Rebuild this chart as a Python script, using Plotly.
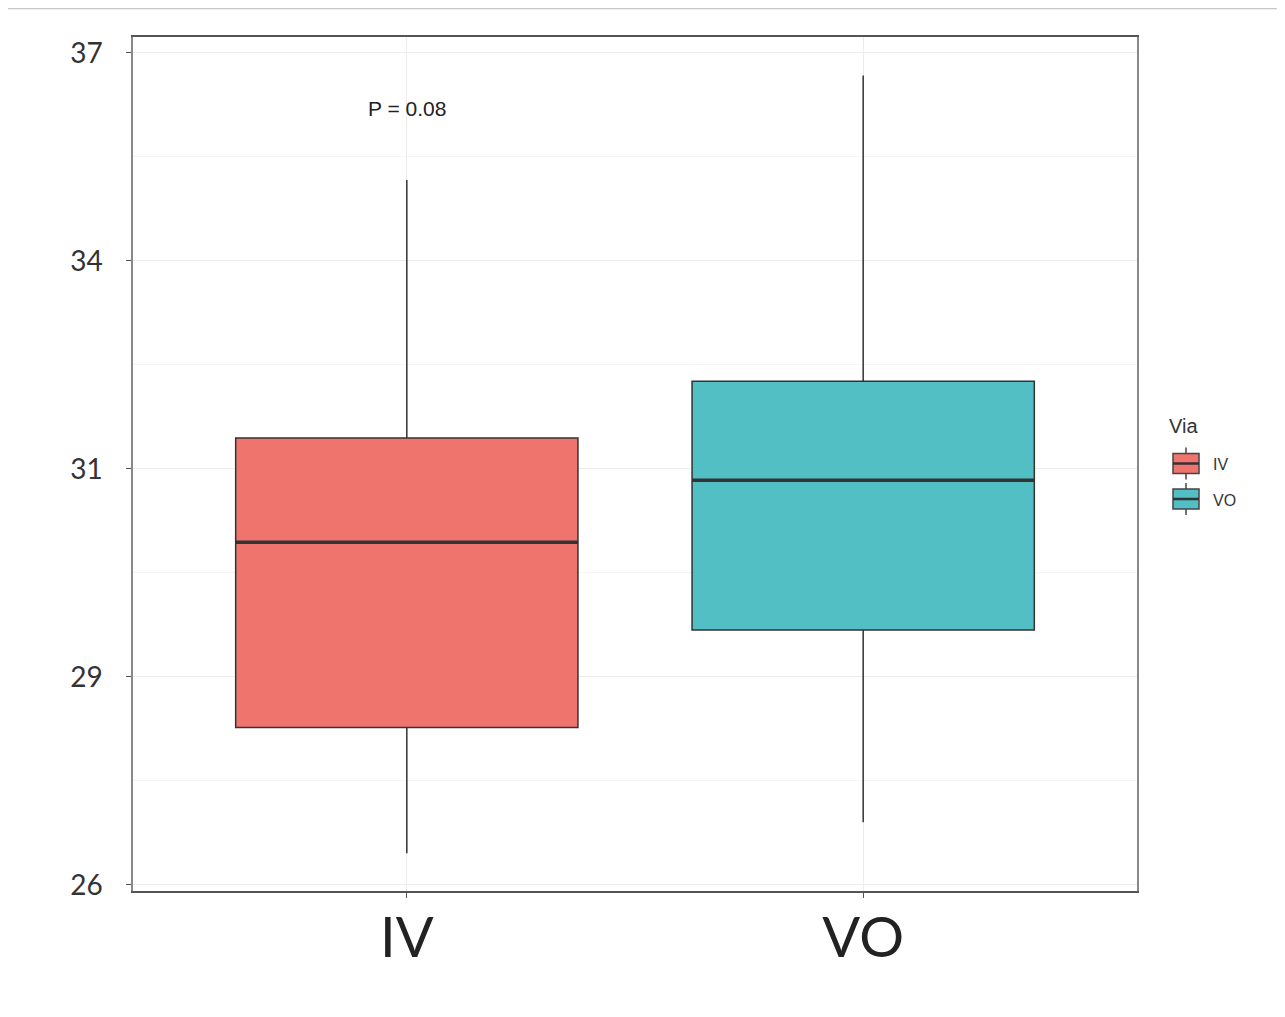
import plotly.graph_objects as go

# Data
groups = ["IV", "VO"]
lower_whisker = [26.42, 26.83]
q1 = [28.08, 29.37]
median = [30.53, 31.35]
q3 = [31.91, 32.66]
upper_whisker = [35.32, 36.70]
colors = ["#F0746E", "#52BFC5"]
ytick_vals = [26, 28.75, 31.5, 34.25, 37]
ytick_text = ["26", "29", "31", "34", "37"]
p_label = "P = 0.08"
legend_title = "Via"

# Layout geometry (page pixels; the figure sits 8px in from the page edge)
OFF = 8
W, H = 1269, 1001
L, T, R, B = 133 - OFF, 37 - OFF, W - (1137 - OFF), H - (891 - OFF)
PW, PH = W - L - R, H - T - B


def px(x):  # page x -> paper
    return (x - OFF - L) / PW


def py(y):  # page y -> paper
    return (H - B - (y - OFF)) / PH


box_w = 0.75
fig = go.Figure()
for i, g in enumerate(groups):
    fig.add_trace(go.Box(
        x=[i], q1=[q1[i]], median=[median[i]], q3=[q3[i]],
        lowerfence=[lower_whisker[i]], upperfence=[upper_whisker[i]],
        name=g, fillcolor=colors[i], width=box_w, whiskerwidth=0,
        line=dict(color="#333333", width=1.5), boxpoints=False,
        hoverinfo="skip", showlegend=False,
    ))
    fig.add_trace(go.Scatter(
        x=[i - box_w / 2, i + box_w / 2], y=[median[i], median[i]],
        mode="lines", line=dict(color="#333333", width=3.5),
        showlegend=False, hoverinfo="skip",
    ))

fig.add_annotation(x=0, y=36.27, text=p_label, showarrow=False,
                   font=dict(size=21, color="#222222", family="Liberation Sans"))

# custom legend (ggplot style boxplot keys)
fig.add_annotation(xref="paper", yref="paper", x=px(1167), y=py(426),
                   xanchor="left", yanchor="middle", text=legend_title,
                   showarrow=False,
                   font=dict(size=20, color="#333333", family="Liberation Sans"))
for i, g in enumerate(groups):
    cy = 463.5 + 35.5 * i
    fig.add_shape(type="line", xref="paper", yref="paper",
                  x0=px(1186), x1=px(1186), y0=py(cy - 16), y1=py(cy + 16),
                  line=dict(color="#444444", width=1.5))
    fig.add_shape(type="rect", xref="paper", yref="paper",
                  x0=px(1173), x1=px(1199), y0=py(cy - 10), y1=py(cy + 10),
                  fillcolor=colors[i], line=dict(color="#444444", width=1.5))
    fig.add_shape(type="line", xref="paper", yref="paper",
                  x0=px(1173), x1=px(1199), y0=py(cy), y1=py(cy),
                  line=dict(color="#333333", width=2.5))
    fig.add_annotation(xref="paper", yref="paper", x=px(1211), y=py(cy + 1),
                       xanchor="left", yanchor="middle", text=g, showarrow=False,
                       font=dict(size=16, color="#333333", family="Liberation Sans"))

# thin rule at top of the page
fig.add_shape(type="line", xref="paper", yref="paper", x0=px(8), x1=px(1285),
              y0=py(8.6), y1=py(8.6), line=dict(color="#C8C8C8", width=1.2))

fig.update_layout(
    width=W, height=H,
    margin=dict(l=L, r=R, t=T, b=B),
    plot_bgcolor="white", paper_bgcolor="white",
    boxmode="overlay", showlegend=False,
    font=dict(family="Lato", color="#333333"),
    xaxis=dict(
        range=[-0.6, 1.6], tickvals=[0, 1], ticktext=groups,
        tickfont=dict(size=56, color="#222222", family="Lato"),
        showgrid=True, gridcolor="#EDEDED", gridwidth=1,
        zeroline=False, showline=True, linecolor="#555555", linewidth=2,
        mirror=True, ticks="outside", ticklen=5, tickcolor="#555555",
        ticklabelstandoff=-8,
    ),
    yaxis=dict(
        range=[25.92, 37.21], tickvals=ytick_vals, ticktext=ytick_text,
        tickfont=dict(size=28, color="#333333", family="Lato"),
        showgrid=True, gridcolor="#EDEDED", gridwidth=1,
        minor=dict(tickvals=[(ytick_vals[k] + ytick_vals[k + 1]) / 2 for k in range(4)],
                   showgrid=True, gridcolor="#F5F5F5", gridwidth=1),
        zeroline=False, showline=True, linecolor="#888888", linewidth=1.5,
        mirror=True, ticks="outside", ticklen=5, tickcolor="#555555",
        ticklabelstandoff=18,
    ),
)

fig.write_html("out.html")
